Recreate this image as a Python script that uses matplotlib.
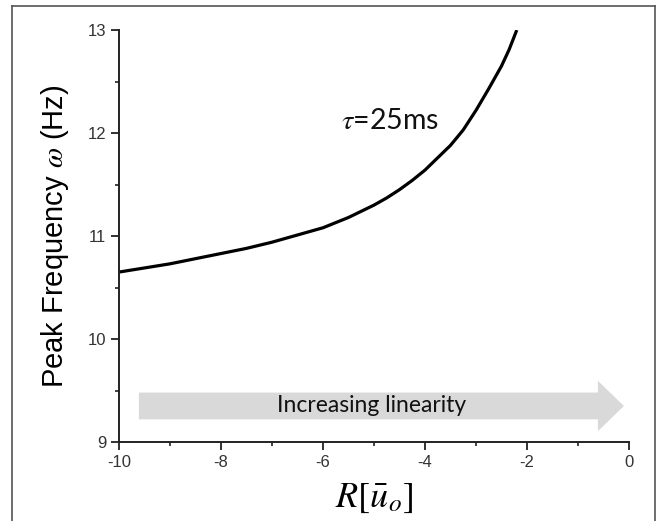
import matplotlib
matplotlib.use("Agg")
import matplotlib.pyplot as plt
from matplotlib.patches import FancyArrow
from matplotlib.lines import Line2D

# Data
r_values = [-10.0, -9.5, -9.0, -8.5, -8.0, -7.5, -7.0, -6.5, -6.0, -5.5, -5.25, -5.0,
            -4.75, -4.5, -4.25, -4.0, -3.75, -3.5, -3.25, -3.0, -2.75, -2.5, -2.35, -2.2]
peak_freq = [10.65, 10.69, 10.73, 10.78, 10.83, 10.88, 10.94, 11.01, 11.08, 11.18, 11.24, 11.30,
             11.37, 11.45, 11.54, 11.64, 11.76, 11.88, 12.03, 12.22, 12.43, 12.65, 12.81, 13.0]
x_ticks = [-10, -8, -6, -4, -2, 0]
y_ticks = [9, 10, 11, 12, 13]
annotation_text = r"$\tau$=25ms"
arrow_text = "Increasing linearity"

plt.rcParams["mathtext.fontset"] = "stix"
plt.rcParams["axes.unicode_minus"] = False

fig = plt.figure(figsize=(6.67, 5.21), dpi=100)
ax = fig.add_axes([0.1784, 0.1516, 0.943 - 0.1784, 0.9424 - 0.1516])

ax.plot(r_values, peak_freq, color="black", lw=2.3, solid_capstyle="butt",
        solid_joinstyle="round")

ax.set_xlim(-10, 0)
ax.set_ylim(9, 13)
ax.set_xticks(x_ticks)
ax.set_yticks(y_ticks)
ax.set_xticks([-9, -7, -5, -3, -1], minor=True)
ax.set_yticks([9.5, 10.5, 11.5, 12.5], minor=True)

for s in ["top", "right"]:
    ax.spines[s].set_visible(False)
for s in ["left", "bottom"]:
    ax.spines[s].set_linewidth(1.4)
    ax.spines[s].set_color("#222222")

ax.tick_params(which="major", direction="out", length=5.5, width=1.3,
               colors="#222222", labelsize=12, pad=3.5)
ax.tick_params(which="minor", direction="out", length=2.8, width=1.2, colors="#222222")
for lab in ax.get_xticklabels() + ax.get_yticklabels():
    lab.set_fontfamily("Liberation Sans")
    lab.set_color("#333333")

ax.set_ylabel(r"Peak Frequency $\omega$ (Hz)", fontsize=21,
              fontfamily="Liberation Sans", labelpad=12)
ax.set_xlabel(r"$R[\bar{u}_o]$", fontsize=26, labelpad=8)

# Arrow
arr = FancyArrow(-9.61, 9.35, 9.51, 0.0, width=0.26, head_width=0.49,
                 head_length=0.51, length_includes_head=True,
                 color="#d9d9d9", ec="none", zorder=1)
ax.add_patch(arr)
ax.text(-5.05, 9.35, arrow_text, fontsize=16.5, fontfamily="Lato",
        ha="center", va="center", color="#111111", zorder=2)

ax.text(-4.69, 12.12, annotation_text, fontsize=20.5, fontfamily="Lato",
        ha="center", va="center", color="#111111")

# Figure frame (top, left, right)
fc = "#555555"
fig.add_artist(Line2D([12/667, 12/667], [0, 1 - 6/521], color=fc, lw=1.2, transform=fig.transFigure))
fig.add_artist(Line2D([655/667, 655/667], [0, 1 - 6/521], color=fc, lw=1.2, transform=fig.transFigure))
fig.add_artist(Line2D([12/667, 655/667], [1 - 6/521, 1 - 6/521], color=fc, lw=1.2, transform=fig.transFigure))

fig.savefig("out.png", dpi=100)
